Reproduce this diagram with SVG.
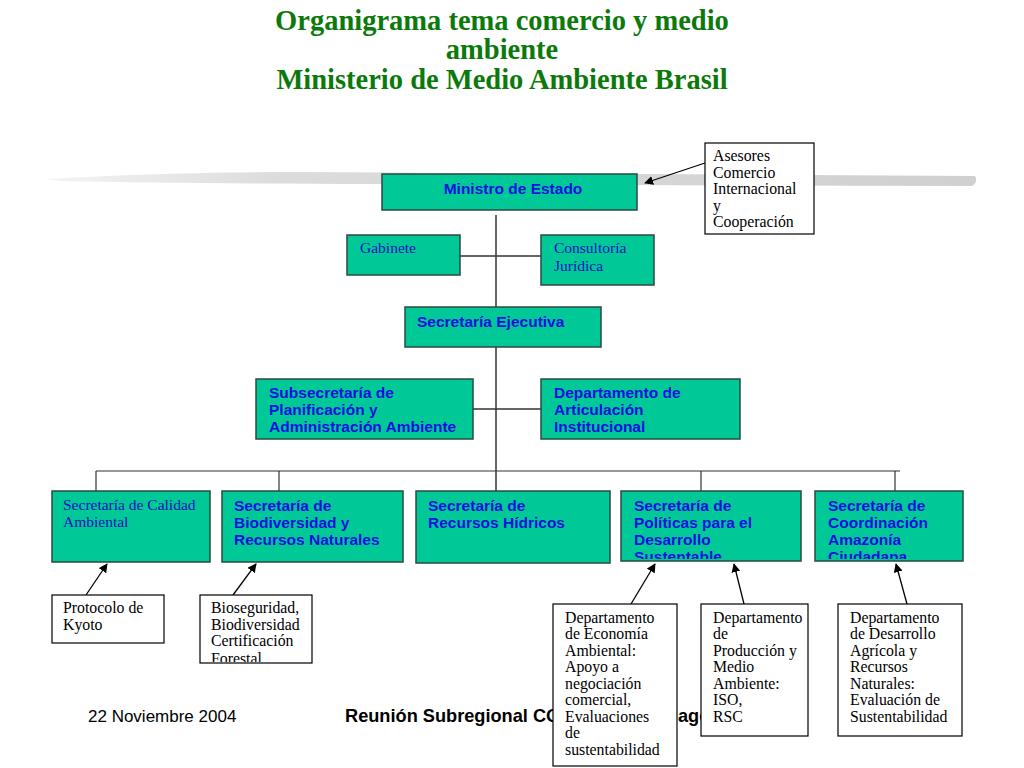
<svg xmlns="http://www.w3.org/2000/svg" width="1024" height="768" viewBox="0 0 1024 768">
<defs>
<style>
.title{font-family:"Liberation Serif",serif;font-weight:bold;font-size:28.5px;fill:#0b7a0b;text-anchor:middle}
.node{fill:#00c896;stroke:#2b4a40;stroke-width:1.5}
.box{fill:#fff;stroke:#000;stroke-width:1.2}
.bs{font-family:"Liberation Sans",Arial,sans-serif;font-weight:bold;font-size:15.5px;fill:#1010e0}
.sr{font-family:"Liberation Serif",serif;font-size:15.5px;fill:#1010c0}
.bt{font-family:"Liberation Serif",serif;font-size:15.8px;fill:#000}
.ln{stroke:#333;stroke-width:1.5;fill:none}
.thin{stroke-width:1.2}
.ar{stroke:#000;stroke-width:1.3;fill:none;marker-end:url(#ah)}
.ft{font-family:"Liberation Sans",Arial,sans-serif;font-size:17px;fill:#000}
.fb{font-family:"Liberation Sans",Arial,sans-serif;font-size:18.2px;font-weight:bold;fill:#000}
</style>
<marker id="ah" viewBox="0 0 10 10" refX="9" refY="5" markerWidth="9" markerHeight="9" orient="auto" markerUnits="userSpaceOnUse">
<path d="M0,0 L10,5 L0,10 z" fill="#000"/>
</marker>
<linearGradient id="brush" x1="0" y1="0" x2="1" y2="0">
<stop offset="0" stop-color="#f4f4f4"/>
<stop offset="0.25" stop-color="#dcdcdc"/>
<stop offset="1" stop-color="#d0d0d0"/>
</linearGradient>
<clipPath id="cBio"><rect x="201" y="596" width="110" height="66"/></clipPath>
<clipPath id="cPol"><rect x="622" y="492" width="178" height="67"/></clipPath>
<clipPath id="cCoo"><rect x="816" y="492" width="146" height="67"/></clipPath>
</defs>
<rect width="1024" height="768" fill="#fff"/>
<text class="title" x="502" y="30">Organigrama tema comercio y medio</text>
<text class="title" x="502" y="59">ambiente</text>
<text class="title" x="502" y="89">Ministerio de Medio Ambiente Brasil</text>
<path d="M45,179 C120,175 200,172 300,172 L650,174 L975,176 C977,179 977,183 972,186 L600,185 C400,184 200,184 60,181 Z" fill="url(#brush)"/>
<g id="connectors">
<line class="ln" x1="496" y1="215" x2="496" y2="491"/>
<line class="ln" x1="460" y1="256" x2="541" y2="256"/>
<line class="ln" x1="473" y1="409" x2="541" y2="409"/>
<line class="ln thin" x1="96" y1="471" x2="900" y2="471"/>
<line class="ln thin" x1="96" y1="471" x2="96" y2="491"/>
<line class="ln thin" x1="279" y1="471" x2="279" y2="491"/>
<line class="ln thin" x1="701" y1="471" x2="701" y2="491"/>
<line class="ln thin" x1="895" y1="471" x2="895" y2="491"/>
<line class="ar" x1="705" y1="163" x2="645" y2="183"/>
<line class="ar" x1="86" y1="595" x2="107" y2="564"/>
<line class="ar" x1="233" y1="595" x2="256" y2="564"/>
<line class="ar" x1="631" y1="604" x2="655" y2="564"/>
<line class="ar" x1="744" y1="604" x2="734" y2="564"/>
<line class="ar" x1="907" y1="604" x2="896" y2="564"/>
</g>
<g id="ministro"><rect class="node" x="382" y="174" width="255" height="36"/><text class="bs" x="513" y="194" text-anchor="middle">Ministro de Estado</text></g>
<g id="asesores"><rect class="box" x="705" y="143" width="109" height="91"/>
<text class="bt" x="713" y="161">Asesores</text><text class="bt" x="713" y="178">Comercio</text><text class="bt" x="713" y="194">Internacional</text><text class="bt" x="713" y="211">y</text><text class="bt" x="713" y="227">Cooperación</text></g>
<g id="gabinete"><rect class="node" x="347" y="235" width="113" height="40"/><text class="sr" x="360" y="253">Gabinete</text></g>
<g id="consultoria"><rect class="node" x="541" y="235" width="113" height="50"/><text class="sr" x="554" y="253">Consultoría</text><text class="sr" x="554" y="271">Jurídica</text></g>
<g id="ejecutiva"><rect class="node" x="405" y="307" width="196" height="40"/><text class="bs" x="417" y="327">Secretaría Ejecutiva</text></g>
<g id="subsecretaria"><rect class="node" x="256" y="379" width="217" height="60"/><text class="bs" x="269" y="398">Subsecretaría de</text><text class="bs" x="269" y="415">Planificación y</text><text class="bs" x="269" y="432">Administración Ambiente</text></g>
<g id="articulacion"><rect class="node" x="541" y="379" width="199" height="60"/><text class="bs" x="554" y="398">Departamento de</text><text class="bs" x="554" y="415">Articulación</text><text class="bs" x="554" y="432">Institucional</text></g>
<g id="calidad"><rect class="node" x="52" y="491" width="158" height="71"/><text class="sr" x="63" y="510">Secretaría de Calidad</text><text class="sr" x="63" y="527">Ambiental</text></g>
<g id="biodiversidad"><rect class="node" x="222" y="491" width="181" height="71"/><text class="bs" x="234" y="511">Secretaría de</text><text class="bs" x="234" y="528">Biodiversidad y</text><text class="bs" x="234" y="545">Recursos Naturales</text></g>
<g id="hidricos"><rect class="node" x="416" y="491" width="194" height="72"/><text class="bs" x="428" y="511">Secretaría de</text><text class="bs" x="428" y="528">Recursos Hídricos</text></g>
<g id="politicas"><rect class="node" x="621" y="491" width="180" height="70"/><g clip-path="url(#cPol)"><text class="bs" x="634" y="511">Secretaría de</text><text class="bs" x="634" y="528">Políticas para el</text><text class="bs" x="634" y="545">Desarrollo</text><text class="bs" x="634" y="562">Sustentable</text></g></g>
<g id="coordinacion"><rect class="node" x="815" y="491" width="148" height="70"/><g clip-path="url(#cCoo)"><text class="bs" x="828" y="511">Secretaría de</text><text class="bs" x="828" y="528">Coordinación</text><text class="bs" x="828" y="545">Amazonía</text><text class="bs" x="828" y="562">Ciudadana</text></g></g>
<g id="footer"><text class="ft" x="88" y="722">22 Noviembre 2004</text><text class="fb" x="345" y="722">Reunión Subregional CO</text><text class="fb" x="678" y="722">ago</text></g>
<g id="kyoto"><rect class="box" x="52" y="595" width="112" height="48"/><text class="bt" x="63" y="613">Protocolo de</text><text class="bt" x="63" y="630">Kyoto</text></g>
<g id="bioseguridad"><rect class="box" x="200" y="595" width="112" height="68"/><g clip-path="url(#cBio)"><text class="bt" x="211" y="613">Bioseguridad,</text><text class="bt" x="211" y="630">Biodiversidad</text><text class="bt" x="211" y="646">Certificación</text><text class="bt" x="211" y="664">Forestal</text></g></g>
<g id="economia"><rect class="box" x="553" y="604" width="124" height="162"/>
<text class="bt" x="565" y="623">Departamento</text><text class="bt" x="565" y="639">de Economía</text><text class="bt" x="565" y="656">Ambiental:</text><text class="bt" x="565" y="672">Apoyo a</text><text class="bt" x="565" y="689">negociación</text><text class="bt" x="565" y="705">comercial,</text><text class="bt" x="565" y="722">Evaluaciones</text><text class="bt" x="565" y="738">de</text><text class="bt" x="565" y="755">sustentabilidad</text></g>
<g id="produccion"><rect class="box" x="701" y="604" width="107" height="132"/>
<text class="bt" x="713" y="623">Departamento</text><text class="bt" x="713" y="639">de</text><text class="bt" x="713" y="656">Producción y</text><text class="bt" x="713" y="672">Medio</text><text class="bt" x="713" y="689">Ambiente:</text><text class="bt" x="713" y="705">ISO,</text><text class="bt" x="713" y="722">RSC</text></g>
<g id="desarrollo"><rect class="box" x="838" y="604" width="124" height="132"/>
<text class="bt" x="850" y="623">Departamento</text><text class="bt" x="850" y="639">de Desarrollo</text><text class="bt" x="850" y="656">Agrícola y</text><text class="bt" x="850" y="672">Recursos</text><text class="bt" x="850" y="689">Naturales:</text><text class="bt" x="850" y="705">Evaluación de</text><text class="bt" x="850" y="722">Sustentabilidad</text></g>
</svg>
